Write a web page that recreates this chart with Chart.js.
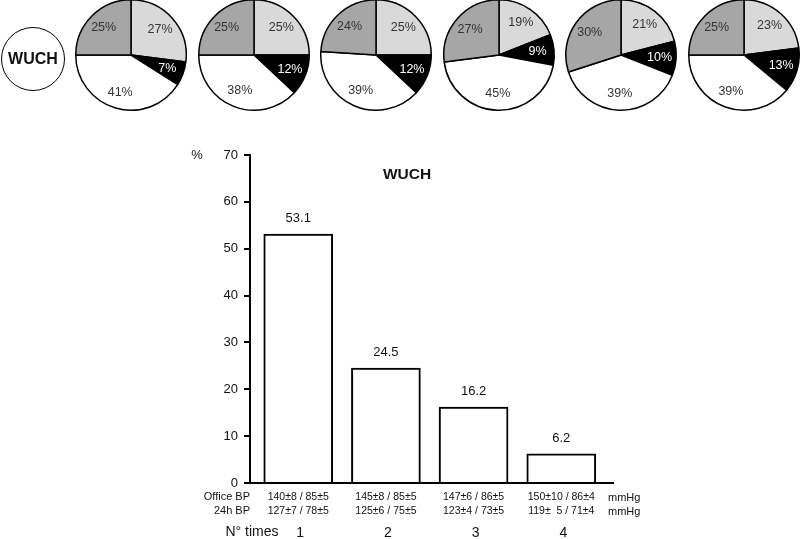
<!DOCTYPE html>
<html>
<head>
<meta charset="utf-8">
<script src="https://cdn.jsdelivr.net/npm/chart.js@4/dist/chart.umd.min.js"></script>
<style>
  body { margin: 0; background: #fff; font-family: "Liberation Sans", Arial, sans-serif; }
  #wrap { position: relative; width: 800px; height: 539px; overflow: hidden; }
  #bar { position: absolute; left: 0; top: 0; }
  .pie { position: absolute; }
  #wuch { position: absolute; left: 1px; top: 27px; width: 62px; height: 62px; border: 1.5px solid #000;
          border-radius: 50%; display: flex; align-items: center; justify-content: center;
          font-weight: bold; font-size: 16px; color: #111; }
</style>
</head>
<body>
<div id="wrap">
  <canvas id="bar" width="800" height="539"></canvas>
  <div id="wuch">WUCH</div>
</div>
<script>
// pie charts: slices clockwise from the top
var pieLight = [27, 25, 25, 19, 21, 23];
var pieBlack = [7, 12, 12, 9, 10, 13];
var pieWhite = [41, 38, 39, 45, 39, 39];
var pieDark  = [25, 25, 24, 27, 30, 25];

// bar chart
var timesLabels = ['1', '2', '3', '4'];
var timesValues = [1, 2, 3, 4];
var barValues = [53.1, 24.5, 16.2, 6.2];
var officeBP = ['140±8 / 85±5', '145±8 / 85±5', '147±6 / 86±5', '150±10 / 86±4'];
var dayBP = ['127±7 / 78±5', '125±6 / 75±5', '123±4 / 73±5', '119±  5 / 71±4'];
var yTicks = [0, 10, 20, 30, 40, 50, 60, 70];

Chart.defaults.font.family = '"Liberation Sans", Arial, sans-serif';
Chart.defaults.color = '#111';
Chart.defaults.animation = false;

var FONT = '"Liberation Sans", Arial, sans-serif';

// labels inside pie slices
var pieLabels = {
  id: 'pieLabels',
  afterDraw: function(chart) {
    var ctx = chart.ctx;
    var meta = chart.getDatasetMeta(0);
    var data = chart.data.datasets[0].data;
    var textCol = chart.data.datasets[0].textColor;
    ctx.save();
    ctx.font = '12.5px ' + FONT;
    ctx.textAlign = 'center';
    ctx.textBaseline = 'middle';
    meta.data.forEach(function(arc, i) {
      var mid = (arc.startAngle + arc.endAngle) / 2;
      var r = arc.outerRadius * 0.7;
      ctx.fillStyle = textCol[i];
      ctx.fillText(data[i] + '%', arc.x + Math.cos(mid) * r, arc.y + Math.sin(mid) * r);
    });
    ctx.restore();
  }
};

var wrap = document.getElementById('wrap');
for (var p = 0; p < pieLight.length; p++) {
  var cv = document.createElement('canvas');
  cv.className = 'pie';
  cv.width = 114; cv.height = 114;
  cv.style.left = (131 + p * 122.6 - 57) + 'px';
  cv.style.top = (55 - 57) + 'px';
  wrap.appendChild(cv);
  new Chart(cv, {
    type: 'pie',
    data: {
      labels: ['light', 'black', 'white', 'dark'],
      datasets: [{
        data: [pieLight[p], pieBlack[p], pieWhite[p], pieDark[p]],
        backgroundColor: ['#d9d9d9', '#000000', '#ffffff', '#a6a6a6'],
        textColor: ['#333', '#fff', '#333', '#333'],
        borderColor: '#000',
        borderWidth: 1.5
      }]
    },
    options: {
      responsive: false,
      devicePixelRatio: 1,
      layout: { padding: 1 },
      plugins: { legend: { display: false }, tooltip: { enabled: false } }
    },
    plugins: [pieLabels]
  });
}

// texts around the bar chart
var barTexts = {
  id: 'barTexts',
  afterDraw: function(chart) {
    var ctx = chart.ctx;
    var xs = chart.scales.x, ys = chart.scales.y;
    var area = chart.chartArea;
    ctx.save();
    ctx.fillStyle = '#111';
    ctx.textBaseline = 'middle';

    ctx.textAlign = 'center';
    ctx.font = '13px ' + FONT;
    ctx.fillText('%', area.left - 53, area.top);
    barValues.forEach(function(v, i) {
      ctx.fillText(v.toFixed(1), xs.getPixelForValue(timesValues[i]), ys.getPixelForValue(v) - 16);
    });

    ctx.font = 'bold 15.5px ' + FONT;
    ctx.fillText('WUCH', area.left + 157, area.top + 20);

    ctx.font = '10.5px ' + FONT;
    timesValues.forEach(function(t, i) {
      var x = xs.getPixelForValue(t);
      ctx.fillText(officeBP[i], x, area.bottom + 14);
      ctx.fillText(dayBP[i], x, area.bottom + 28);
    });
    ctx.textAlign = 'right';
    ctx.font = '11px ' + FONT;
    ctx.fillText('Office BP', area.left, area.bottom + 14);
    ctx.fillText('24h BP', area.left, area.bottom + 28);
    ctx.textAlign = 'left';
    ctx.fillText('mmHg', area.right - 5, area.bottom + 15);
    ctx.fillText('mmHg', area.right - 5, area.bottom + 29);

    ctx.textAlign = 'center';
    ctx.font = '14px ' + FONT;
    ctx.fillText('N° times', area.left + 2, area.bottom + 49);
    timesValues.forEach(function(t, i) {
      ctx.fillText(timesLabels[i], xs.getPixelForValue(t) + 2, area.bottom + 50);
    });
    ctx.restore();
  }
};

new Chart(document.getElementById('bar'), {
  type: 'bar',
  data: {
    datasets: [{
      data: timesValues.map(function(t, i) { return { x: t, y: barValues[i] }; }),
      backgroundColor: '#fff',
      borderColor: '#000',
      borderWidth: 2,
      borderSkipped: 'bottom',
      barThickness: 69
    }]
  },
  options: {
    responsive: false,
    devicePixelRatio: 1,
    layout: { padding: { left: 0, top: 155, right: 187, bottom: 56 } },
    plugins: { legend: { display: false }, tooltip: { enabled: false } },
    scales: {
      x: {
        type: 'linear',
        offset: false,
        min: 0.45,
        max: 4.59,
        ticks: { display: false },
        grid: { display: false, offset: false },
        border: { display: true, color: '#000', width: 2 },
        afterFit: function(s) { s.height = 0; }
      },
      y: {
        min: 0,
        max: 70,
        afterBuildTicks: function(s) { s.ticks = yTicks.map(function(v) { return { value: v }; }); },
        ticks: { font: { size: 13 }, color: '#111', padding: 6 },
        grid: { drawOnChartArea: false, drawTicks: true, tickLength: 6, color: '#000', lineWidth: 2 },
        border: { display: true, color: '#000', width: 2 },
        afterFit: function(s) { s.width = 250; }
      }
    }
  },
  plugins: [barTexts]
});
</script>
</body>
</html>
